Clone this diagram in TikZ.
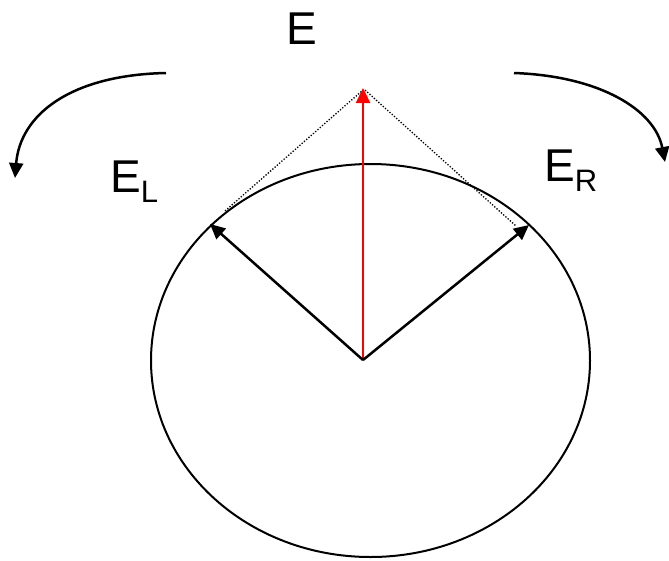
\documentclass[tikz,border=0pt]{standalone}
\usepackage{fontspec}
\setmainfont{Liberation Sans}
\usetikzlibrary{arrows.meta}
\begin{document}
\begin{tikzpicture}[x=1pt,y=-1pt,
  vec/.style={line width=2.5pt,-{Triangle[length=15pt,width=14pt]}},
  dotline/.style={line width=1.3pt,dash pattern=on 1.3pt off 1.7pt},
  lbl/.style={inner sep=0pt,font=\fontsize{46}{50}\selectfont}]
\useasboundingbox (0,0) rectangle (669,560);
\coordinate (O) at (363,360);
\coordinate (T) at (363,88);
\coordinate (L) at (210,224);
\coordinate (R) at (529,225);
\draw[line width=2pt] (370.5,360.5) ellipse [x radius=219.5, y radius=196.5];
\draw[dotline] (225,211) -- (363,90);
\draw[dotline] (365,90) -- (516,226);
\draw[vec,red,line width=2.4pt] (O) -- (T);
\draw[vec] (O) -- (L);
\draw[vec] (O) -- (R);
\coordinate (la) at (166,73);
\coordinate (lb) at (15,178);
\coordinate (ra) at (514,73);
\coordinate (rb) at (665,162);
\draw[vec] (la) .. controls (70,75) and (20,115) .. (lb);
\draw[vec] (ra) .. controls (600,76) and (655,110) .. (rb);
\node[lbl,anchor=base] (E) at (302,44) {E};
\node[lbl,anchor=base west] (EL) at (110,192) {E\raisebox{-0.22em}{\fontsize{31}{31}\selectfont L}};
\node[lbl,anchor=base west] (ER) at (544,181) {E\raisebox{-0.22em}{\fontsize{31}{31}\selectfont R}};
\end{tikzpicture}
\end{document}
